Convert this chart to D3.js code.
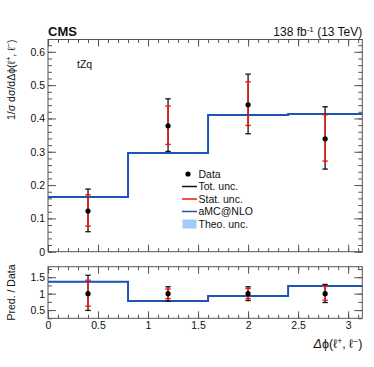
<!DOCTYPE html>
<html>
<head>
<meta charset="utf-8">
<script src="https://cdn.jsdelivr.net/npm/d3@7"></script>
<style>
body { margin: 0; background: #fff; }
text { font-family: "Liberation Sans", Arial, Helvetica, sans-serif; fill: #111; }
</style>
</head>
<body>
<div id="chart"></div>
<script>
// bins in delta phi
var binEdges = [0, 0.8, 1.6, 2.4, Math.PI]
var binCenters = [0.4, 1.2, 2.0, 2.77]

// normalised cross section, top panel
var dataVal = [0.122, 0.378, 0.441, 0.339]
var totUp = [0.188, 0.459, 0.533, 0.435]
var totDown = [0.060, 0.301, 0.354, 0.248]
var statUp = [0.171, 0.437, 0.510, 0.411]
var statDown = [0.077, 0.322, 0.379, 0.272]
var mcVal = [0.164, 0.296, 0.410, 0.413]
var mcUnc = [0.003, 0.003, 0.003, 0.003]

// ratio panel (pred / data)
var ratioData = [1, 1, 1, 1]
var ratioMc = [1.36, 0.78, 0.93, 1.23]
var ratioTotUp = [1.56, 1.21, 1.21, 1.28]
var ratioTotDown = [0.49, 0.77, 0.79, 0.73]
var ratioStatUp = [1.41, 1.14, 1.16, 1.22]
var ratioStatDown = [0.62, 0.85, 0.85, 0.80]

var xTicks = [0, 0.5, 1, 1.5, 2, 2.5, 3]
var yTopTicks = [0, 0.1, 0.2, 0.3, 0.4, 0.5, 0.6]
var yRatTicks = [0.5, 1, 1.5]

var legendLabels = ["Data", "Tot. unc.", "Stat. unc.", "aMC@NLO", "Theo. unc."]

var svgWidth = 374
var svgHeight = 367

var svg = d3.select("#chart").append("svg").attr("width", svgWidth).attr("height", svgHeight)

var left = 48, right = 362.3
var topY0 = 39.5, topY1 = 251.7
var ratY0 = 266.7, ratY1 = 318.3

var mcColor = "#1c55b5"
var bandColor = "#9fcdf7"
var statColor = "#f41414"
var frameColor = "#555"

var x = d3.scaleLinear().domain([0, Math.PI]).range([left, right])
var yTop = d3.scaleLinear().domain([0, 0.637]).range([topY1, topY0])
var yRat = d3.scaleLinear().domain([0.25, 1.82]).range([ratY1, ratY0])

function minorRange(a, b, s) {
    var out = []
    for (var i = 0; a + i * s <= b + 1e-9; i++) out.push(+(a + i * s).toFixed(4))
    return out
}
var xMinor = minorRange(0, 3.1, 0.1)
var yTopMinor = minorRange(0, 0.62, 0.02)
var yRatMinor = minorRange(0.25, 1.75, 0.25)

function drawAxes(yScale, y0, y1, yMajor, yMinor, yFmt, showX) {
    var g = svg.append("g")
    // bottom
    g.append("g").attr("transform", `translate(0, ${y1})`)
        .call(d3.axisBottom(x).tickValues(xMinor).tickSize(-3.5).tickFormat(""))
    g.append("g").attr("transform", `translate(0, ${y1})`)
        .call(d3.axisBottom(x).tickValues(xTicks).tickSize(-7).tickPadding(3)
            .tickFormat(showX ? d3.format("") : ""))
    // top
    g.append("g").attr("transform", `translate(0, ${y0})`)
        .call(d3.axisTop(x).tickValues(xMinor).tickSize(-3.5).tickFormat(""))
    g.append("g").attr("transform", `translate(0, ${y0})`)
        .call(d3.axisTop(x).tickValues(xTicks).tickSize(-7).tickFormat(""))
    // left
    g.append("g").attr("transform", `translate(${left}, 0)`)
        .call(d3.axisLeft(yScale).tickValues(yMinor).tickSize(-4).tickFormat(""))
    g.append("g").attr("transform", `translate(${left}, 0)`)
        .call(d3.axisLeft(yScale).tickValues(yMajor).tickSize(-8).tickPadding(3).tickFormat(yFmt))
    // right
    g.append("g").attr("transform", `translate(${right}, 0)`)
        .call(d3.axisRight(yScale).tickValues(yMinor).tickSize(-4).tickFormat(""))
    g.append("g").attr("transform", `translate(${right}, 0)`)
        .call(d3.axisRight(yScale).tickValues(yMajor).tickSize(-8).tickFormat(""))

    g.selectAll(".domain").remove()
    g.selectAll(".tick line").attr("stroke", frameColor)
    g.selectAll(".tick text").attr("font-size", "10.5px").attr("fill", "#111")
        .attr("font-family", "Liberation Sans, Arial, sans-serif")

    svg.append("rect").attr("x", left).attr("y", y0)
        .attr("width", right - left).attr("height", y1 - y0)
        .attr("fill", "none").attr("stroke", frameColor).attr("stroke-width", 1)
}

function yFmtTop(d) { return d === 0 ? "0" : d3.format(".1f")(d) }
function yFmtRat(d) { return d === 1 ? "1" : d3.format(".1f")(d) }

drawAxes(yTop, topY0, topY1, yTopTicks, yTopMinor, yFmtTop, false)
drawAxes(yRat, ratY0, ratY1, yRatTicks, yRatMinor, yFmtRat, true)

// histogram step helpers
function stepPoints(vals) {
    var pts = binEdges.slice(0, -1).map((e, i) => [e, vals[i]])
    pts.push([binEdges[binEdges.length - 1], vals[vals.length - 1]])
    return pts
}

function drawPanel(yScale, mc, unc, centers, val, tUp, tDown, sUp, sDown) {
    var lo = stepPoints(mc.map((v, i) => v - unc[i]))
    var hi = stepPoints(mc.map((v, i) => v + unc[i]))
    var bandPts = lo.map((p, i) => [p[0], p[1], hi[i][1]])

    svg.append("path")
        .datum(bandPts)
        .attr("d", d3.area().curve(d3.curveStepAfter)
            .x(d => x(d[0])).y0(d => yScale(d[1])).y1(d => yScale(d[2])))
        .attr("fill", bandColor)

    svg.append("path")
        .datum(stepPoints(mc))
        .attr("d", d3.line().curve(d3.curveStepAfter).x(d => x(d[0])).y(d => yScale(d[1])))
        .attr("fill", "none").attr("stroke", mcColor).attr("stroke-width", 2)

    var cap = 2.7
    centers.forEach(function (c, i) {
        var cx = x(c)
        var g = svg.append("g")
        g.append("line").attr("x1", cx).attr("x2", cx)
            .attr("y1", yScale(tUp[i])).attr("y2", yScale(tDown[i]))
            .attr("stroke", "#111").attr("stroke-width", 1.3)
        ;[tUp[i], tDown[i]].forEach(function (v) {
            g.append("line").attr("x1", cx - cap).attr("x2", cx + cap)
                .attr("y1", yScale(v)).attr("y2", yScale(v))
                .attr("stroke", "#111").attr("stroke-width", 1.3)
        })
        g.append("line").attr("x1", cx).attr("x2", cx)
            .attr("y1", yScale(sUp[i])).attr("y2", yScale(sDown[i]))
            .attr("stroke", statColor).attr("stroke-width", 1.4)
        ;[sUp[i], sDown[i]].forEach(function (v) {
            g.append("line").attr("x1", cx - cap).attr("x2", cx + cap)
                .attr("y1", yScale(v)).attr("y2", yScale(v))
                .attr("stroke", statColor).attr("stroke-width", 1.4)
        })
        g.append("circle").attr("cx", cx).attr("cy", yScale(val[i]))
            .attr("r", 2.6).attr("fill", "#000")
    })
}

drawPanel(yTop, mcVal, mcUnc, binCenters, dataVal, totUp, totDown, statUp, statDown)
drawPanel(yRat, ratioMc, mcUnc.map((u, i) => u / dataVal[i]), binCenters, ratioData,
    ratioTotUp, ratioTotDown, ratioStatUp, ratioStatDown)

// legend
var legX = 182, legY = 174, legStep = 12.5
var legend = svg.append("g")
legendLabels.forEach(function (lab, i) {
    var ly = legY + i * legStep
    if (i === 0) {
        legend.append("circle").attr("cx", legX + 6).attr("cy", ly).attr("r", 2.6).attr("fill", "#000")
    } else if (i === 4) {
        legend.append("rect").attr("x", legX + 0.5).attr("y", ly - 4.5)
            .attr("width", 14).attr("height", 9).attr("fill", bandColor)
    } else {
        var col = ["", "#111", statColor, mcColor][i]
        legend.append("line").attr("x1", legX).attr("x2", legX + 15)
            .attr("y1", ly).attr("y2", ly).attr("stroke", col).attr("stroke-width", 1.5)
    }
    legend.append("text").attr("x", legX + 16.5).attr("y", ly + 3.7)
        .attr("font-size", "10.5px").text(lab)
})

// labels
svg.append("text").attr("x", left).attr("y", 35.5)
    .attr("font-size", "13px").attr("font-weight", "bold").text("CMS")

var lumi = svg.append("text").attr("x", right).attr("y", 36)
    .attr("text-anchor", "end").attr("font-size", "12px")
lumi.append("tspan").text("138 fb")
lumi.append("tspan").attr("dy", -4.5).attr("font-size", "8px").text("-1")
lumi.append("tspan").attr("dy", 4.5).text(" (13 TeV)")

svg.append("text").attr("x", 77).attr("y", 67.5)
    .attr("font-size", "10.5px").text("tZq")

var yl = svg.append("text")
    .attr("transform", `translate(14.5, ${topY0}) rotate(-90)`)
    .attr("text-anchor", "end").attr("font-size", "10.5px")
yl.append("tspan").text("1/σ dσ/dΔϕ(ℓ")
yl.append("tspan").attr("dy", -3.5).attr("font-size", "7.5px").text("+")
yl.append("tspan").attr("dy", 3.5).text(", ℓ")
yl.append("tspan").attr("dy", -3.5).attr("font-size", "7.5px").text("−")
yl.append("tspan").attr("dy", 3.5).text(")")

svg.append("text")
    .attr("transform", `translate(14.5, ${(ratY0 + ratY1) / 2}) rotate(-90)`)
    .attr("text-anchor", "middle").attr("font-size", "10.5px")
    .text("Pred. / Data")

var xl = svg.append("text").attr("x", right).attr("y", 347.5)
    .attr("text-anchor", "end").attr("font-size", "12.5px")
xl.append("tspan").attr("font-style", "italic").text("Δ")
xl.append("tspan").text("ϕ(ℓ")
xl.append("tspan").attr("dy", -4).attr("font-size", "8.5px").text("+")
xl.append("tspan").attr("dy", 4).text(", ℓ")
xl.append("tspan").attr("dy", -4).attr("font-size", "8.5px").text("−")
xl.append("tspan").attr("dy", 4).text(")")
</script>
</body>
</html>
